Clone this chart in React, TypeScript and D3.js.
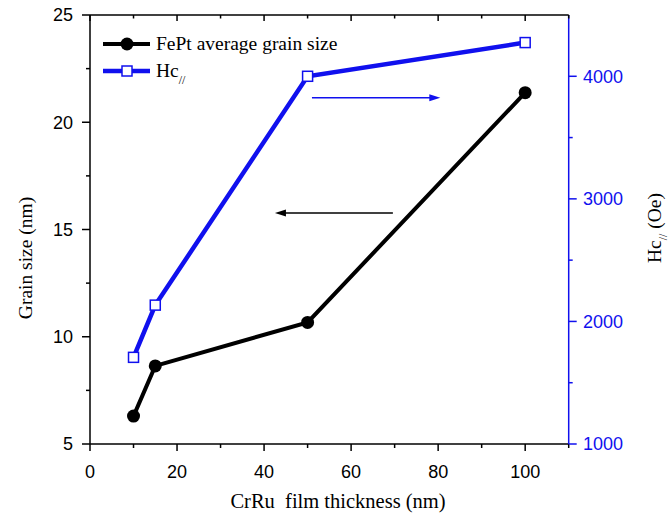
import React from "react";
import * as d3 from "d3";

const thickness = [10, 15, 50, 100];
const grainSize = [6.3, 8.64, 10.67, 21.38];
const hcPar = [1707, 2133, 4000, 4275];
const xTicks = [0, 20, 40, 60, 80, 100];
const xMinor = [10, 30, 50, 70, 90, 110];
const yLeftTicks = [5, 10, 15, 20, 25];
const yLeftMinor = [7.5, 12.5, 17.5, 22.5];
const yRightTicks = [1000, 2000, 3000, 4000];
const yRightMinor = [1500, 2500, 3500];

const W = 669;
const H = 516;
const left = 90;
const right = 568.7;
const top = 15;
const bottom = 444;
const BLUE = "#1010ee";
const SANS = "'Liberation Sans', Arial, sans-serif";
const SERIF = "'Liberation Serif', 'Times New Roman', serif";

export default function App() {
  const x = d3.scaleLinear().domain([0, 110]).range([left, right]);
  const yL = d3.scaleLinear().domain([5, 25]).range([bottom, top]);
  const yR = d3.scaleLinear().domain([1000, 4500]).range([bottom, top]);

  const lineL = d3
    .line<number>()
    .x((_, i) => x(thickness[i]))
    .y((d) => yL(d));
  const lineR = d3
    .line<number>()
    .x((_, i) => x(thickness[i]))
    .y((d) => yR(d));

  const blueArrowY = yR(3825);
  const blackArrowY = yL(15.77);
  const ba0 = x(51);
  const ba1 = x(80.5);
  const ka0 = x(69.6);
  const ka1 = x(42.5);

  return (
    <svg
      width={W}
      height={H}
      style={{ position: "absolute", left: 0, top: 0, background: "#fff" }}
    >
      <rect x={0} y={0} width={W} height={H} fill="#fff" />
      {/* data lines */}
      <path d={lineR(hcPar) || ""} fill="none" stroke={BLUE} strokeWidth={4.5} />
      <path d={lineL(grainSize) || ""} fill="none" stroke="#000" strokeWidth={4} />
      {hcPar.map((v, i) => (
        <rect
          key={"s" + i}
          x={x(thickness[i]) - 5}
          y={yR(v) - 5}
          width={10}
          height={10}
          fill="#fff"
          stroke={BLUE}
          strokeWidth={1.5}
        />
      ))}
      {grainSize.map((v, i) => (
        <circle key={"c" + i} cx={x(thickness[i])} cy={yL(v)} r={6.5} fill="#000" />
      ))}

      {/* annotation arrows */}
      <line x1={ba0} y1={blueArrowY} x2={ba1 - 9} y2={blueArrowY} stroke={BLUE} strokeWidth={1.5} />
      <path
        d={`M${ba1},${blueArrowY} L${ba1 - 11},${blueArrowY - 3.5} L${ba1 - 11},${blueArrowY + 3.5} Z`}
        fill={BLUE}
      />
      <line x1={ka0} y1={blackArrowY} x2={ka1 + 9} y2={blackArrowY} stroke="#000" strokeWidth={1.5} />
      <path
        d={`M${ka1},${blackArrowY} L${ka1 + 11},${blackArrowY - 3.5} L${ka1 + 11},${blackArrowY + 3.5} Z`}
        fill="#000"
      />

      {/* axes frame */}
      <line x1={left} y1={top} x2={right} y2={top} stroke="#000" strokeWidth={1.5} />
      <line x1={left} y1={bottom} x2={right} y2={bottom} stroke="#000" strokeWidth={1.5} />
      <line x1={left} y1={top} x2={left} y2={bottom} stroke="#000" strokeWidth={1.5} />
      <line x1={right} y1={top} x2={right} y2={bottom} stroke={BLUE} strokeWidth={1.5} />

      {/* bottom ticks */}
      {xTicks.map((t) => (
        <g key={"xt" + t}>
          <line x1={x(t)} x2={x(t)} y1={bottom} y2={bottom + 7} stroke="#000" strokeWidth={1.5} />
          <line x1={x(t)} x2={x(t)} y1={top} y2={top + 6} stroke="#000" strokeWidth={1.5} />
          <text
            x={x(t)}
            y={478}
            textAnchor="middle"
            fontFamily={SANS}
            fontSize={18}
            fill="#000"
          >
            {t}
          </text>
        </g>
      ))}
      {xMinor.map((t) => (
        <g key={"xm" + t}>
          <line x1={x(t)} x2={x(t)} y1={bottom} y2={bottom + 4} stroke="#000" strokeWidth={1.5} />
          <line x1={x(t)} x2={x(t)} y1={top} y2={top + 3.5} stroke="#000" strokeWidth={1.5} />
        </g>
      ))}

      {/* left ticks */}
      {yLeftTicks.map((t) => (
        <g key={"yl" + t}>
          <line x1={left - 8} x2={left} y1={yL(t)} y2={yL(t)} stroke="#000" strokeWidth={1.5} />
          <text
            x={73}
            y={yL(t)}
            dy="0.36em"
            textAnchor="end"
            fontFamily={SANS}
            fontSize={18}
            fill="#000"
          >
            {t}
          </text>
        </g>
      ))}
      {yLeftMinor.map((t) => (
        <line key={"ylm" + t} x1={left - 4} x2={left} y1={yL(t)} y2={yL(t)} stroke="#000" strokeWidth={1.5} />
      ))}

      {/* right ticks */}
      {yRightTicks.map((t) => (
        <g key={"yr" + t}>
          <line x1={right} x2={right + 8} y1={yR(t)} y2={yR(t)} stroke={BLUE} strokeWidth={1.5} />
          <text
            x={583}
            y={yR(t)}
            dy="0.36em"
            textAnchor="start"
            fontFamily={SANS}
            fontSize={18}
            fill={BLUE}
          >
            {t}
          </text>
        </g>
      ))}
      {yRightMinor.map((t) => (
        <line key={"yrm" + t} x1={right} x2={right + 4} y1={yR(t)} y2={yR(t)} stroke={BLUE} strokeWidth={1.5} />
      ))}

      {/* axis titles */}
      <text
        x={338}
        y={508}
        textAnchor="middle"
        fontFamily={SERIF}
        fontSize={20.5}
        fill="#000"
        xmlSpace="preserve"
      >
        {"CrRu  film thickness (nm)"}
      </text>
      <text
        transform={`translate(32,258) rotate(-90)`}
        textAnchor="middle"
        fontFamily={SERIF}
        fontSize={19.5}
        fill="#000"
      >
        Grain size (nm)
      </text>
      <text
        transform={`translate(661,228) rotate(-90)`}
        textAnchor="middle"
        fontFamily={SERIF}
        fontSize={19.5}
        fill="#000"
      >
        Hc
        <tspan fontSize={12} dy={6}>//</tspan>
        <tspan dy={-6}> (Oe)</tspan>
      </text>

      {/* legend */}
      <line x1={103} x2={150} y1={44} y2={44} stroke="#000" strokeWidth={4} />
      <circle cx={127} cy={44} r={6.5} fill="#000" />
      <text x={156} y={50} fontFamily={SERIF} fontSize={19.5} fill="#000">
        FePt average grain size
      </text>
      <line x1={103} x2={150} y1={71} y2={71} stroke={BLUE} strokeWidth={4.5} />
      <rect x={122} y={66} width={10} height={10} fill="#fff" stroke={BLUE} strokeWidth={1.5} />
      <text x={156} y={77} fontFamily={SERIF} fontSize={19.5} fill="#000">
        Hc
        <tspan fontSize={12} dy={7}>//</tspan>
      </text>
    </svg>
  );
}
